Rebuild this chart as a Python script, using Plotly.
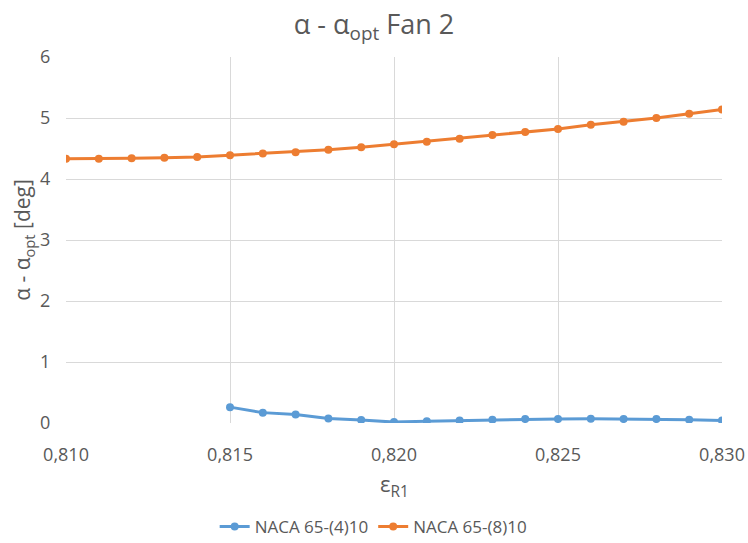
import plotly.graph_objects as go

# Relative flow coefficient values (x axis)
eps_r1 = [0.810, 0.811, 0.812, 0.813, 0.814, 0.815, 0.816, 0.817, 0.818, 0.819, 0.820,
          0.821, 0.822, 0.823, 0.824, 0.825, 0.826, 0.827, 0.828, 0.829, 0.830]

# NACA 65-(4)10: defined from 0.815 onward
eps_r1_naca4 = eps_r1[5:]
naca4_dalpha = [0.26, 0.17, 0.14, 0.075, 0.05, 0.015, 0.03, 0.04, 0.055, 0.065,
                0.065, 0.07, 0.065, 0.065, 0.055, 0.04]

# NACA 65-(8)10
naca8_dalpha = [4.33, 4.33, 4.34, 4.35, 4.36, 4.39, 4.42, 4.44, 4.48, 4.52, 4.57,
                4.61, 4.66, 4.72, 4.77, 4.82, 4.89, 4.94, 5.00, 5.07, 5.14]

BLUE = "#5B9BD5"
ORANGE = "#ED7D31"
TEXT = "#595959"
GRID = "#D9D9D9"
FONT = "Open Sans, Lato, sans-serif"

fig = go.Figure()
fig.add_trace(go.Scatter(
    x=eps_r1_naca4, y=naca4_dalpha, mode="lines+markers", name="NACA 65-(4)10",
    line=dict(color=BLUE, width=3), marker=dict(color=BLUE, size=8),
))
fig.add_trace(go.Scatter(
    x=eps_r1, y=naca8_dalpha, mode="lines+markers", name="NACA 65-(8)10",
    line=dict(color=ORANGE, width=3), marker=dict(color=ORANGE, size=8),
))

fig.update_layout(
    width=748, height=543,
    margin=dict(l=66, r=26, t=57, b=120),
    paper_bgcolor="white", plot_bgcolor="white",
    separators=",.",
    font=dict(family=FONT, color=TEXT, size=17),
    title=dict(text="α - α<sub>opt</sub> Fan 2", x=0.5, xanchor="center",
               y=0.955, yanchor="middle", font=dict(size=27, color=TEXT)),
    showlegend=True,
    legend=dict(orientation="h", x=0.469, xanchor="center",
                yref="container", y=0.0295, yanchor="middle",
                font=dict(size=17, color=TEXT), itemwidth=30, tracegroupgap=0),
    xaxis=dict(
        range=[0.810, 0.830], tickvals=[0.810, 0.815, 0.820, 0.825, 0.830],
        tickformat=".3f", showgrid=True, gridcolor=GRID, gridwidth=1,
        zeroline=False, showline=False, ticks="outside", ticklen=15, tickcolor="white",
        tickfont=dict(size=18, color=TEXT), automargin=False,
    ),
    yaxis=dict(
        range=[0, 6], dtick=1, showgrid=True, gridcolor=GRID, gridwidth=1,
        zeroline=False, showline=False, ticks="outside", ticklen=11, tickcolor="white",
        tickfont=dict(size=18, color=TEXT), automargin=False,
        title=dict(text="α - α<sub>opt</sub> [deg]", font=dict(size=21, color=TEXT), standoff=3),
    ),
    annotations=[dict(
        text="ε<sub>R1</sub>", xref="paper", yref="paper", x=0.5, y=-0.169,
        xanchor="center", yanchor="middle", showarrow=False,
        font=dict(size=22, color=TEXT),
    )],
)

fig.write_html("out.html")
